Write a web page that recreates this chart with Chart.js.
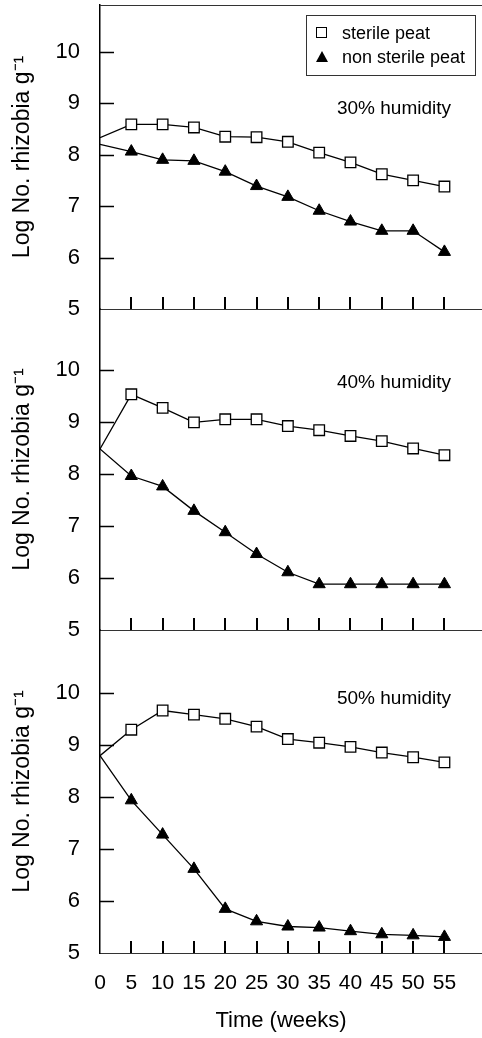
<!DOCTYPE html>
<html>
<head>
<meta charset="utf-8">
<script src="https://cdn.jsdelivr.net/npm/chart.js@4.4.0/dist/chart.umd.min.js"></script>
<style>
  html, body { margin: 0; padding: 0; background: #fff; }
  #wrap { position: relative; width: 482px; height: 1038px; overflow: hidden; font-family: 'Liberation Sans', Arial, sans-serif; color: #000; }
  #wrap canvas { position: absolute; left: 0; top: 0; }
  .panel-label { position: absolute; width: 200px; text-align: center; font-size: 19px; line-height: 22px; }
  #xtitle { position: absolute; left: 181px; top: 1007px; width: 200px; text-align: center; font-size: 22px; line-height: 26px; }
  #legend { position: absolute; left: 306px; top: 15px; width: 170px; height: 61px; box-sizing: border-box; border: 1px solid #333; background: #fff; }
  #legend .txt { position: absolute; left: 35px; font-size: 18px; line-height: 20px; white-space: nowrap; }
  #legend .sq { position: absolute; left: 9px; top: 11px; width: 11px; height: 11px; box-sizing: border-box; border: 1.5px solid #000; background: #fff; }
  #legend .tri { position: absolute; left: 9px; top: 35px; width: 0; height: 0; border-left: 6px solid transparent; border-right: 6px solid transparent; border-bottom: 11px solid #000; }
</style>
</head>
<body>
<div id="wrap">
  <canvas id="panel30" width="482" height="1038"></canvas>
  <canvas id="panel40" width="482" height="1038"></canvas>
  <canvas id="panel50" width="482" height="1038"></canvas>
  <div class="panel-label" id="label30" style="left:294px; top:97px;"></div>
  <div class="panel-label" id="label40" style="left:294px; top:371px;"></div>
  <div class="panel-label" id="label50" style="left:294px; top:687px;"></div>
  <div id="xtitle"></div>
  <div id="legend">
    <div class="sq"></div><div class="txt" id="leg0" style="top:7px;"></div>
    <div class="tri"></div><div class="txt" id="leg1" style="top:31px;"></div>
  </div>
</div>
<script>
// sampling times (weeks) and axis ticks
const weeks = [0, 5, 10, 15, 20, 25, 30, 35, 40, 45, 50, 55];
const xTicks = [0, 5, 10, 15, 20, 25, 30, 35, 40, 45, 50, 55];
const yTicks = [5, 6, 7, 8, 9, 10];

const legendLabels = ['sterile peat', 'non sterile peat'];
const panelLabels = ['30% humidity', '40% humidity', '50% humidity'];
const xTitle = 'Time (weeks)';
const yTitle = 'Log No. rhizobia g\u207B\u00B9';

// Log No. rhizobia g-1
const sterile30 = [8.33, 8.59, 8.59, 8.53, 8.35, 8.34, 8.25, 8.04, 7.85, 7.62, 7.50, 7.38];
const nonSterile30 = [8.20, 8.06, 7.90, 7.88, 7.67, 7.39, 7.18, 6.91, 6.70, 6.52, 6.52, 6.11];

const sterile40 = [8.48, 9.53, 9.27, 8.99, 9.05, 9.05, 8.92, 8.84, 8.73, 8.63, 8.49, 8.36];
const nonSterile40 = [8.48, 7.96, 7.76, 7.29, 6.88, 6.46, 6.11, 5.88, 5.88, 5.88, 5.88, 5.88];

const sterile50 = [8.80, 9.30, 9.67, 9.59, 9.51, 9.36, 9.12, 9.05, 8.97, 8.86, 8.77, 8.67];
const nonSterile50 = [8.80, 7.94, 7.28, 6.62, 5.85, 5.61, 5.51, 5.49, 5.42, 5.36, 5.34, 5.31];

const FONT = "'Liberation Sans', Arial, sans-serif";

// inward tick marks + optional top frame line
const innerTicks = {
  id: 'innerTicks',
  beforeDatasetsDraw(chart, args, opts) {
    const { ctx, chartArea } = chart;
    const x = chart.scales.x;
    const y = chart.scales.y;
    ctx.save();
    ctx.strokeStyle = '#000';
    ctx.lineWidth = 1.5;
    ctx.beginPath();
    yTicks.forEach(v => {
      if (v === yTicks[0]) return;
      const py = Math.round(y.getPixelForValue(v)) + 0.5;
      ctx.moveTo(chartArea.left, py);
      ctx.lineTo(chartArea.left + 14, py);
    });
    ctx.stroke();
    ctx.lineWidth = 2;
    ctx.beginPath();
    xTicks.forEach(v => {
      if (v === 0) return;
      const px = Math.round(x.getPixelForValue(v));
      ctx.moveTo(px, chartArea.bottom);
      ctx.lineTo(px, chartArea.bottom - 12);
    });
    ctx.stroke();
    if (opts.top) {
      ctx.strokeStyle = '#333';
      ctx.lineWidth = 1;
      ctx.beginPath();
      ctx.moveTo(chartArea.left, chartArea.top + 0.5);
      ctx.lineTo(chartArea.right, chartArea.top + 0.5);
      ctx.stroke();
    }
    ctx.restore();
  },
};

function series(values) {
  return weeks.map((w, i) => ({ x: w, y: values[i] }));
}

function makePanel(canvasId, sterile, nonSterile, cfg) {
  const canvas = document.getElementById(canvasId);
  if (!canvas) return null;
  const ctx = canvas.getContext('2d');

  return new Chart(ctx, {
    type: 'line',
    data: {
      datasets: [
        {
          label: legendLabels[0],
          data: series(sterile),
          borderColor: '#000',
          borderWidth: 1.3,
          tension: 0,
          pointStyle: 'rect',
          pointRadius: c => (c.dataIndex === 0 ? 0 : 7.5),
          pointBorderWidth: 1.3,
          pointBorderColor: '#000',
          pointBackgroundColor: '#fff',
        },
        {
          label: legendLabels[1],
          data: series(nonSterile),
          borderColor: '#000',
          borderWidth: 1.3,
          tension: 0,
          pointStyle: 'triangle',
          pointRadius: c => (c.dataIndex === 0 ? 0 : 7),
          pointBorderWidth: 1,
          pointBorderColor: '#000',
          pointBackgroundColor: '#000',
        },
      ],
    },
    options: {
      responsive: false,
      devicePixelRatio: 1,
      animation: false,
      events: [],
      layout: {
        autoPadding: false,
        padding: { top: cfg.top, bottom: cfg.bottom, left: 0, right: 0 },
      },
      plugins: {
        legend: { display: false },
        tooltip: { enabled: false },
        innerTicks: { top: !!cfg.frameTop },
      },
      scales: {
        x: {
          type: 'linear',
          position: 'bottom',
          min: 0,
          max: 61,
          afterBuildTicks: s => { s.ticks = xTicks.map(v => ({ value: v })); },
          afterFit: s => { s.height = cfg.xHeight; s.paddingLeft = 0; s.paddingRight = 0; },
          grid: { drawOnChartArea: false, drawTicks: false },
          border: { display: true, color: '#333', width: 1 },
          ticks: {
            display: cfg.showX,
            color: '#000',
            padding: 18,
            maxRotation: 0,
            autoSkip: false,
            font: { family: FONT, size: 21 },
          },
        },
        y: {
          type: 'linear',
          position: 'left',
          min: 5,
          max: cfg.yMax,
          afterBuildTicks: s => { s.ticks = yTicks.map(v => ({ value: v })); },
          afterFit: s => { s.width = 100; s.paddingTop = 0; s.paddingBottom = 0; },
          grid: { drawOnChartArea: false, drawTicks: false },
          border: { display: true, color: '#000', width: 1.5 },
          ticks: {
            color: '#000',
            padding: 20,
            font: { family: FONT, size: 22 },
          },
          title: {
            display: true,
            text: yTitle,
            color: '#000',
            font: { family: FONT, size: 23 },
            padding: { top: 9, bottom: 0 },
          },
        },
      },
    },
    plugins: [innerTicks],
  });
}

makePanel('panel30', sterile30, nonSterile30, { top: 5, bottom: 729, yMax: 10.91, xHeight: 0, showX: false, frameTop: true });
makePanel('panel40', sterile40, nonSterile40, { top: 309, bottom: 408, yMax: 11.17, xHeight: 0, showX: false });
makePanel('panel50', sterile50, nonSterile50, { top: 630, bottom: 0, yMax: 11.22, xHeight: 85, showX: true });

document.getElementById('label30').textContent = panelLabels[0];
document.getElementById('label40').textContent = panelLabels[1];
document.getElementById('label50').textContent = panelLabels[2];
document.getElementById('xtitle').textContent = xTitle;
document.getElementById('leg0').textContent = legendLabels[0];
document.getElementById('leg1').textContent = legendLabels[1];
</script>
</body>
</html>
